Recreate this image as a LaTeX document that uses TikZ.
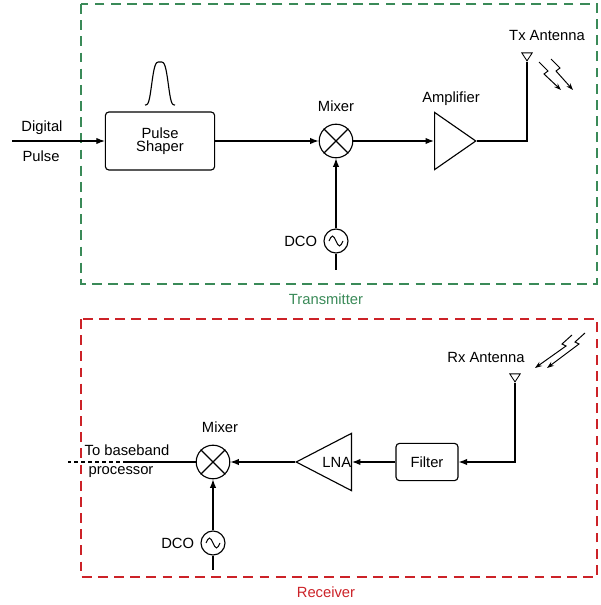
\documentclass[tikz,border=0pt]{standalone}
\usepackage{fontspec}
\setmainfont{Liberation Sans}
\usetikzlibrary{positioning,shapes.geometric,arrows.meta}
\definecolor{txgreen}{RGB}{58,138,88}
\definecolor{rxred}{RGB}{204,34,40}
\tikzset{
  blk/.style={draw,rounded corners=2.5pt,line width=0.8pt,inner sep=1pt},
  mix/.style={draw,circle,minimum size=0.84cm,inner sep=0pt,line width=0.8pt},
  osc/.style={draw,circle,minimum size=0.6cm,inner sep=0pt,line width=0.8pt},
  tri/.style={draw,isosceles triangle,isosceles triangle stretches,inner sep=0pt,line width=0.8pt},
  ant/.style={draw,isosceles triangle,isosceles triangle stretches,shape border rotate=-90,
    minimum width=0.26cm,minimum height=0.2cm,inner sep=0pt,line width=0.6pt},
  sig/.style={line width=0.8pt,-{Latex[length=6pt,width=4.5pt]}},
  wire/.style={line width=0.8pt},
  wave/.style={line width=0.7pt,-{Stealth[length=5pt,width=3.5pt]}},
  zone/.style={line width=1.5pt,dash pattern=on 7pt off 4.5pt}
}
\begin{document}
\begin{tikzpicture}[x=0.025cm,y=-0.025cm,font=\fontsize{10.5}{12}\selectfont]
    \useasboundingbox (0,0) rectangle (600,605);
    % transmitter
    \draw[zone,txgreen] (81,4) rectangle (597,284);
    \node[txgreen] (txlbl) at (326,299) {Transmitter};
    \coordinate (din) at (12,141);
    \node (dig) at (42,128) {Digital};
    \node (dpul) at (41,156) {Pulse};
    \node[blk,minimum width=2.73cm,minimum height=1.45cm,align=center] (shaper) at (160,141)
    {Pulse\\[-2.5pt]Shaper};
    \draw[wire] plot[domain=-15:15,samples=41,smooth]
    ({160+\x},{105-43*exp(-(\x/9)*(\x/9)*(\x/9)*(\x/9))});
    \node[mix] (mixT) at (336,141) {};
    \node[above=5pt of mixT] (mixTl) {Mixer};
    \node[osc] (dcoT) at (336,241) {};
    \node[left=1pt of dcoT] (dcoTl) {DCO};
    \coordinate (dcoTe) at (336,270);
    \node[tri,minimum width=1.43cm,minimum height=1.03cm,anchor=lower side] (amp) at (434,141) {};
    \node (ampl) at (451,99) {Amplifier};
    \node[ant,anchor=apex] (antT) at (527,62) {};
    \node (antTl) at (547,35) {Tx Antenna};
    \draw[sig] (din) -- (shaper);
    \draw[sig] (shaper) -- (mixT);
    \draw[sig] (mixT) -- (amp.lower side);
    \draw[wire] (amp.apex) -| (antT.apex);
    \draw[sig] (dcoT) -- (mixT);
    \draw[wire] (dcoT) -- (dcoTe);
    \draw[wave] (539,62) -- (548,71) -- (544,74) -- (561,90);
    \draw[wave] (551,59) -- (560,68) -- (556,71) -- (573,90);
    % receiver
    \draw[zone,rxred] (81,319) rectangle (597,577);
    \node[rxred] (rxlbl) at (326,592) {Receiver};
    \node[ant,anchor=apex] (antR) at (515,383) {};
    \node (antRl) at (486,357) {Rx Antenna};
    \node[blk,minimum width=1.55cm,minimum height=0.93cm] (filt) at (427,462) {Filter};
    \node[tri,shape border rotate=180,minimum width=1.43cm,minimum height=1.38cm,anchor=lower side,
      label={[xshift=2pt]center:LNA}] (lna) at (352,462) {};
    \node[mix] (mixR) at (213,462) {};
    \node[above=5pt of mixR,xshift=5pt] (mixRl) {Mixer};
    \node[osc] (dcoR) at (213,543) {};
    \node[left=1pt of dcoR] (dcoRl) {DCO};
    \coordinate (dcoRe) at (213,570);
    \coordinate (bbS) at (127,462);
    \coordinate (bbE) at (68,462);
    \node (bb1) at (127,450) {To baseband};
    \node (bb2) at (121,472) {processor};
    \draw[sig] (antR.apex) |- (filt);
    \draw[sig] (filt) -- (lna.lower side);
    \draw[sig] (lna.apex) -- (mixR);
    \draw[sig] (dcoR) -- (mixR);
    \draw[wire] (dcoR) -- (dcoRe);
    \draw[wire] (mixR) -- (bbS);
    \draw[wire,dash pattern=on 3pt off 2pt] (bbS) -- (bbE);
    \draw[wave] (572,335) -- (562,344) -- (566,346) -- (535,368);
    \draw[wave] (585,333) -- (575,342) -- (579,344) -- (547,368);
    % mixer crosses, oscillator waves
    \foreach \m in {mixT,mixR}
    \draw[wire] (\m.north west) -- (\m.south east) (\m.north east) -- (\m.south west);
    \foreach \d in {dcoT,dcoR}
    \draw[line width=0.7pt] ([xshift=-5pt]\d.center) sin ++(2.5pt,3.5pt) cos ++(2.5pt,-3.5pt)
    sin ++(2.5pt,-3.5pt) cos ++(2.5pt,3.5pt);
\end{tikzpicture}
\end{document}
